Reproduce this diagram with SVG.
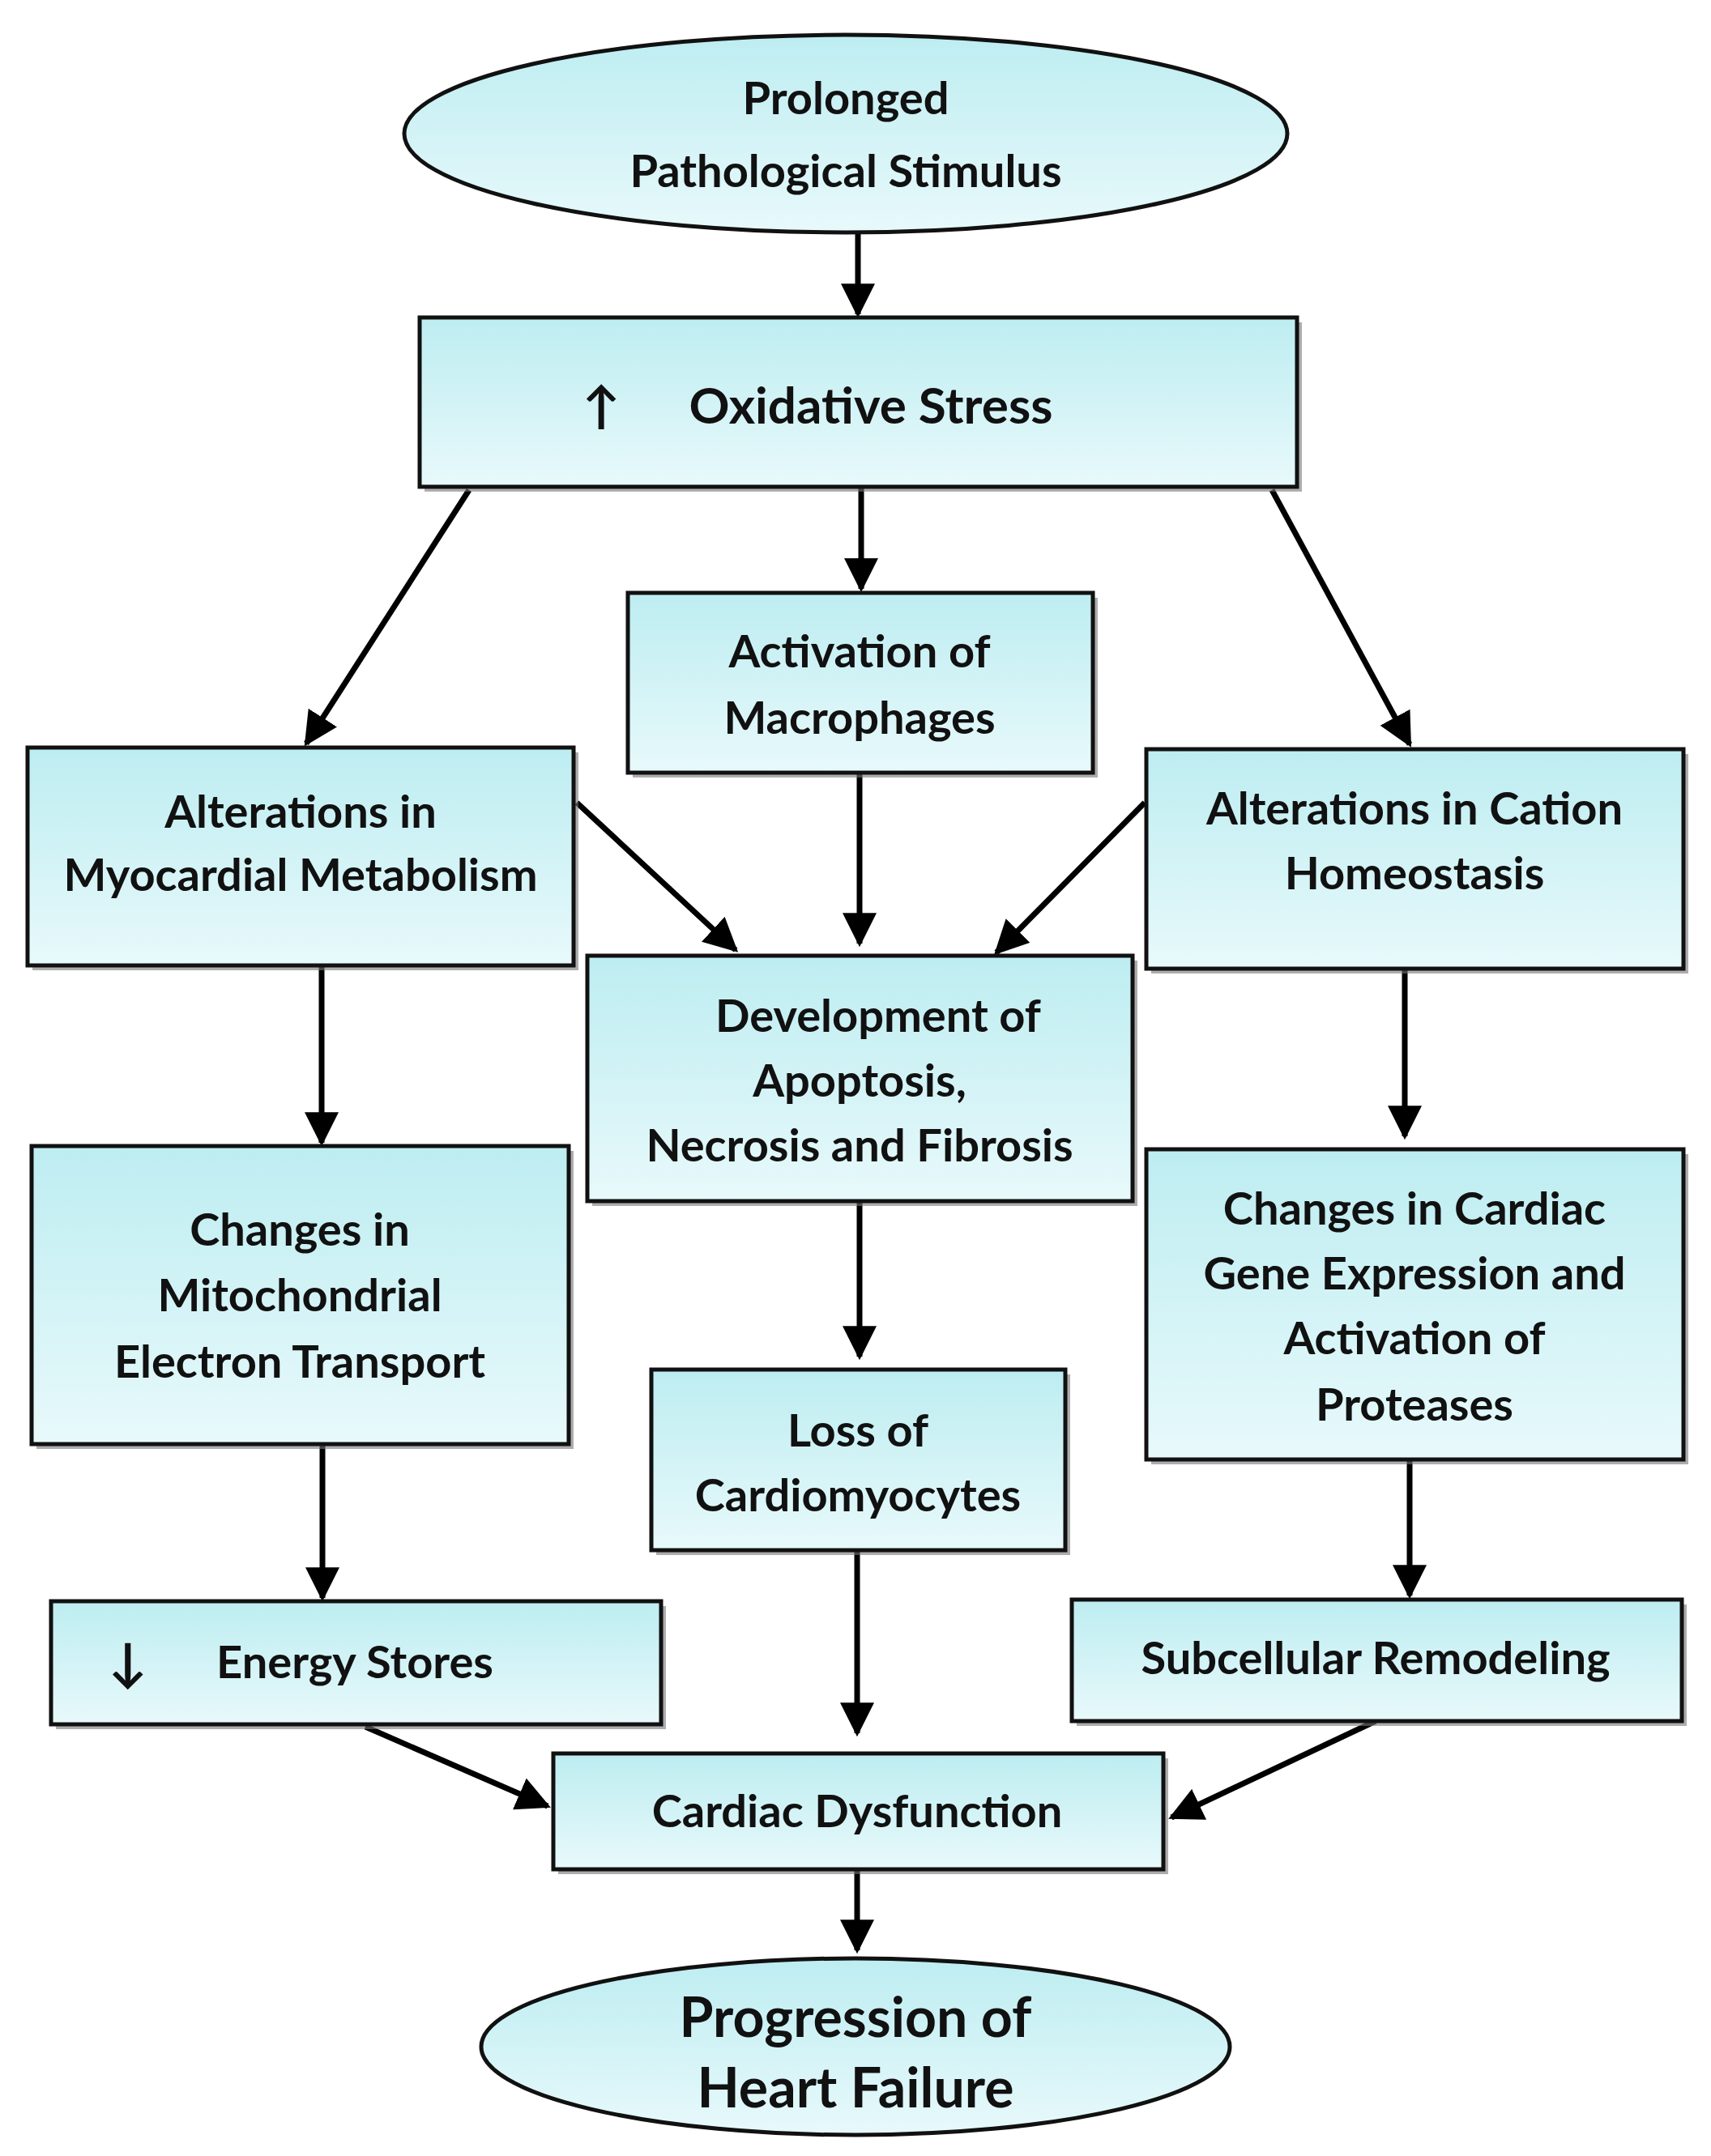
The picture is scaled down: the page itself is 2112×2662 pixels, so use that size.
<svg xmlns="http://www.w3.org/2000/svg" width="2112" height="2662" viewBox="0 0 2112 2662">
<style>
.n{fill:url(#g);stroke:#111;stroke-width:5}
.s{fill:#777;opacity:0.6}
text{font-family:Lato,"Open Sans","Liberation Sans",sans-serif;font-weight:bold;font-size:56px;fill:#111;text-anchor:middle;dominant-baseline:central}
.c{stroke:#000;stroke-width:7;fill:none;marker-end:url(#a)}
</style>
<defs>
<linearGradient id="g" x1="0" y1="0" x2="0" y2="1"><stop offset="0" stop-color="#bdedf1"/><stop offset="1" stop-color="#e8f9fb"/></linearGradient>
<marker id="a" viewBox="0 0 10 10" refX="9" refY="5" markerWidth="6" markerHeight="6" markerUnits="strokeWidth" orient="auto"><path d="M0,0 L10,5 L0,10 z" fill="#000"/></marker>
</defs>
<rect width="2112" height="2662" fill="#fff"/>
<g id="connectors">
<line class="c" x1="1059" y1="286" x2="1059" y2="388"/>
<line class="c" x1="579" y1="605" x2="378" y2="918"/>
<line class="c" x1="1063" y1="601" x2="1063" y2="727"/>
<line class="c" x1="1570" y1="605" x2="1740" y2="919"/>
<line class="c" x1="1061" y1="954" x2="1061" y2="1165"/>
<line class="c" x1="712" y1="991" x2="908" y2="1173"/>
<line class="c" x1="1413" y1="991" x2="1230" y2="1176"/>
<line class="c" x1="397" y1="1192" x2="397" y2="1411"/>
<line class="c" x1="1734" y1="1196" x2="1734" y2="1403"/>
<line class="c" x1="1061" y1="1483" x2="1061" y2="1675"/>
<line class="c" x1="398" y1="1783" x2="398" y2="1973"/>
<line class="c" x1="1740" y1="1802" x2="1740" y2="1970"/>
<line class="c" x1="1058" y1="1914" x2="1058" y2="2140"/>
<line class="c" x1="451" y1="2132" x2="676" y2="2230"/>
<line class="c" x1="1698" y1="2125" x2="1446" y2="2244"/>
<line class="c" x1="1058" y1="2308" x2="1058" y2="2408"/>
</g>
<g id="stimulus"><ellipse class="n" cx="1044" cy="165" rx="545" ry="122"/><text x="1044" y="119">Prolonged</text><text x="1044" y="209">Pathological Stimulus</text></g>
<g id="oxidative"><rect class="s" x="524" y="398" width="1083" height="209"/><rect class="n" x="518" y="392" width="1083" height="209"/><text x="1075" y="499" style="font-size:62px">Oxidative Stress</text><text x="742" y="499" style="font-size:62px">↑</text></g>
<g id="macrophages"><rect class="s" x="781" y="738" width="574" height="222"/><rect class="n" x="775" y="732" width="574" height="222"/><text x="1061" y="802">Activation of</text><text x="1061" y="884">Macrophages</text></g>
<g id="metabolism"><rect class="s" x="40" y="929" width="674" height="269"/><rect class="n" x="34" y="923" width="674" height="269"/><text x="371" y="1000">Alterations in</text><text x="371" y="1078">Myocardial Metabolism</text></g>
<g id="cation"><rect class="s" x="1421" y="931" width="663" height="271"/><rect class="n" x="1415" y="925" width="663" height="271"/><text x="1746" y="996">Alterations in Cation</text><text x="1746" y="1076">Homeostasis</text></g>
<g id="apoptosis"><rect class="s" x="731" y="1186" width="673" height="303"/><rect class="n" x="725" y="1180" width="673" height="303"/><text x="1084" y="1252">Development of</text><text x="1061" y="1332">Apoptosis,</text><text x="1061" y="1412">Necrosis  and Fibrosis</text></g>
<g id="mito"><rect class="s" x="45" y="1421" width="663" height="368"/><rect class="n" x="39" y="1415" width="663" height="368"/><text x="370" y="1516">Changes in</text><text x="370" y="1597">Mitochondrial</text><text x="370" y="1679">Electron Transport</text></g>
<g id="gene"><rect class="s" x="1421" y="1425" width="663" height="383"/><rect class="n" x="1415" y="1419" width="663" height="383"/><text x="1746" y="1490">Changes in Cardiac</text><text x="1746" y="1570">Gene Expression and</text><text x="1746" y="1650">Activation of</text><text x="1746" y="1732">Proteases</text></g>
<g id="loss"><rect class="s" x="810" y="1697" width="511" height="223"/><rect class="n" x="804" y="1691" width="511" height="223"/><text x="1059" y="1764">Loss of</text><text x="1059" y="1844">Cardiomyocytes</text></g>
<g id="energy"><rect class="s" x="69" y="1983" width="753" height="152"/><rect class="n" x="63" y="1977" width="753" height="152"/><text x="158" y="2050" style="font-size:64px">↓</text><text x="438" y="2050">Energy Stores</text></g>
<g id="subcellular"><rect class="s" x="1329" y="1981" width="753" height="150"/><rect class="n" x="1323" y="1975" width="753" height="150"/><text x="1698" y="2045">Subcellular Remodeling</text></g>
<g id="dysfunction"><rect class="s" x="689" y="2171" width="753" height="143"/><rect class="n" x="683" y="2165" width="753" height="143"/><text x="1058" y="2234">Cardiac Dysfunction</text></g>
<g id="hf"><ellipse class="n" cx="1056" cy="2527" rx="462" ry="109"/><text x="1056" y="2488" style="font-size:68px">Progression of</text><text x="1056" y="2575" style="font-size:68px">Heart Failure</text></g>
</svg>
